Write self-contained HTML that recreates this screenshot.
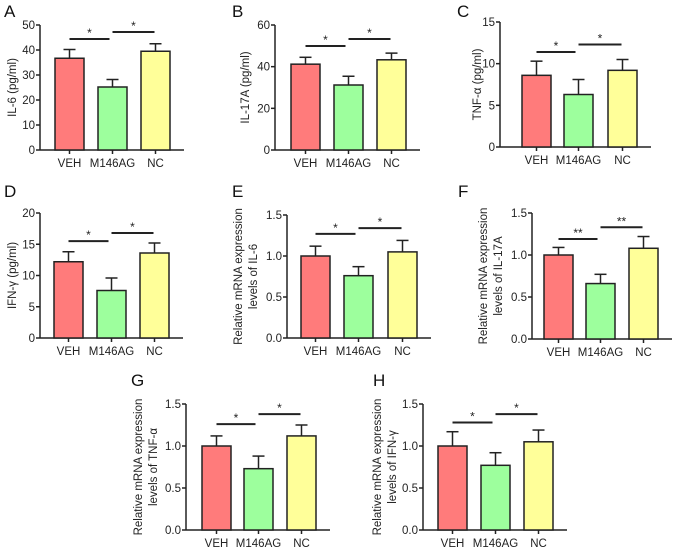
<!DOCTYPE html>
<html><head><meta charset="utf-8"><style>
body{margin:0;background:#fff}
svg{display:block;font-family:"Liberation Sans",sans-serif}
</style></head><body>
<svg id="fig" width="677" height="550" viewBox="0 0 677 550"></svg>
<script>
const categories=["VEH","M146AG","NC"];
const valsA=[36.7,25.2,39.5], errA=[3.5,3.0,3.0], sigA=[44.4,47.2], ticksA=[0,10,20,30,40,50];
const valsB=[41.2,31.2,43.3], errB=[3.3,4.2,3.2], sigB=[49.9,53.3], ticksB=[0,20,40,60];
const valsC=[8.6,6.3,9.2], errC=[1.7,1.8,1.3], sigC=[11.4,12.3], ticksC=[0,5,10,15];
const valsD=[12.2,7.6,13.6], errD=[1.6,2.0,1.6], sigD=[15.5,16.8], ticksD=[0,5,10,15,20];
const valsE=[1.0,0.76,1.05], errE=[0.12,0.11,0.14], sigE=[1.27,1.34], ticksE=[0,0.5,1.0,1.5];
const valsF=[1.0,0.66,1.08], errF=[0.09,0.11,0.14], sigF=[1.19,1.33], ticksF=[0,0.5,1.0,1.5];
const valsG=[1.0,0.73,1.12], errG=[0.12,0.15,0.13], sigG=[1.26,1.38], ticksG=[0,0.5,1.0,1.5];
const valsH=[1.0,0.77,1.05], errH=[0.17,0.15,0.14], sigH=[1.28,1.38], ticksH=[0,0.5,1.0,1.5];
const sigLabels=[["*","*"],["*","*"],["*","*"],["*","*"],["*","*"],["**","**"],["*","*"],["*","*"]];
const colors=["#ff7b7b","#9dff9d","#ffff99"];
const NS="http://www.w3.org/2000/svg";
const svg=document.getElementById('fig');
function mk(t,a,p){const e=document.createElementNS(NS,t);for(const k in a)e.setAttribute(k,a[k]);(p||svg).appendChild(e);return e;}
const panels=[
 {id:"a",L:"A",lx:4,ly:17,ax:40,top:25,bot:150,bx:[55,98,141],bw:29,vals:valsA,err:errA,sig:sigA,ticks:ticksA,dec:0,yl:["IL-6 (pg/ml)"],ylx:[12]},
 {id:"b",L:"B",lx:232,ly:17,ax:275,top:25,bot:150,bx:[291,334,377],bw:29,vals:valsB,err:errB,sig:sigB,ticks:ticksB,dec:0,yl:["IL-17A (pg/ml)"],ylx:[245]},
 {id:"c",L:"C",lx:457,ly:17,ax:500,top:22,bot:147,bx:[522,564,608],bw:29,vals:valsC,err:errC,sig:sigC,ticks:ticksC,dec:0,yl:["TNF-α (pg/ml)"],ylx:[477]},
 {id:"d",L:"D",lx:4,ly:197,ax:40,top:213,bot:338,bx:[54,97,140],bw:29,vals:valsD,err:errD,sig:sigD,ticks:ticksD,dec:0,yl:["IFN-γ (pg/ml)"],ylx:[12]},
 {id:"e",L:"E",lx:232,ly:197,ax:287,top:215,bot:338,bx:[301,344,388],bw:29,vals:valsE,err:errE,sig:sigE,ticks:ticksE,dec:1,yl:["Relative mRNA expression","levels of IL-6"],ylx:[238,253]},
 {id:"f",L:"F",lx:458,ly:197,ax:532,top:213,bot:339,bx:[544,586,629],bw:29,vals:valsF,err:errF,sig:sigF,ticks:ticksF,dec:1,yl:["Relative mRNA expression","levels of IL-17A"],ylx:[483,498]},
 {id:"g",L:"G",lx:131,ly:386,ax:186,top:404,bot:530,bx:[202,244,287],bw:29,vals:valsG,err:errG,sig:sigG,ticks:ticksG,dec:1,yl:["Relative mRNA expression","levels of TNF-α"],ylx:[138,153]},
 {id:"h",L:"H",lx:373,ly:386,ax:423,top:404,bot:530,bx:[438,481,524],bw:29,vals:valsH,err:errH,sig:sigH,ticks:ticksH,dec:1,yl:["Relative mRNA expression","levels of IFN-γ"],ylx:[377,392]}
];
panels.forEach((p,pi)=>{
 const g=mk('g',{});
 
 
 const max=p.ticks[p.ticks.length-1];
 const y=v=>p.bot-(v/max)*(p.bot-p.top);
 const lab=mk('text',{x:p.lx,y:p.ly,'font-size':17,fill:'#111'},g);lab.textContent=p.L;
 
 
 const cy=(p.top+p.bot)/2;
 p.yl.forEach((t,i)=>{const e=mk('text',{x:p.ylx[i],y:cy+4,'font-size':11.5,fill:'#222','text-anchor':'middle',transform:`rotate(-90 ${p.ylx[i]} ${cy})`},g);e.textContent=t;
  
  });
 const xEnd=p.bx[2]+p.bw+14;
 mk('line',{x1:p.ax,y1:p.top,x2:p.ax,y2:p.bot,stroke:'#222','stroke-width':1.5},g);
 mk('line',{x1:p.ax,y1:p.bot,x2:xEnd,y2:p.bot,stroke:'#222','stroke-width':1.5},g);
 p.ticks.forEach(t=>{const yy=y(t);mk('line',{x1:p.ax-4,y1:yy,x2:p.ax,y2:yy,stroke:'#222','stroke-width':1.5},g);
  const e=mk('text',{x:p.ax-5,y:yy+4,'font-size':11.5,fill:'#222','text-anchor':'end'},g);e.textContent=t.toFixed(p.dec);
  
  });
 const cx=[];
 categories.forEach((c,i)=>{
  const x=p.bx[i],w=p.bw,c0=x+w/2;cx.push(c0);
  const top=y(p.vals[i]+p.err[i]);
  mk('line',{x1:c0,y1:y(p.vals[i]),x2:c0,y2:top,stroke:'#222','stroke-width':1.5},g);
  mk('line',{x1:c0-6,y1:top,x2:c0+6,y2:top,stroke:'#222','stroke-width':1.5},g);
  const r=mk('rect',{x:x,y:y(p.vals[i]),width:w,height:p.bot-y(p.vals[i]),fill:colors[i],stroke:'#222','stroke-width':1.5},g);
  
  
  mk('line',{x1:c0,y1:p.bot,x2:c0,y2:p.bot+4,stroke:'#222','stroke-width':1.5},g);
  const t=mk('text',{x:c0,y:p.bot+17,'font-size':11.5,fill:'#222','text-anchor':'middle'},g);t.textContent=c;
  
  
 });
 [[cx[0],cx[1]-3],[cx[1],cx[2]-1]].forEach((s,k)=>{
  const yy=y(p.sig[k]);
  const l=mk('line',{x1:s[0],y1:yy,x2:s[1],y2:yy,stroke:'#222','stroke-width':2},g);
  
  
  const t=mk('text',{x:(s[0]+s[1])/2,y:yy-2,'font-size':12,fill:'#222','text-anchor':'middle'},g);t.textContent=sigLabels[pi][k];
  
  
 });
});
</script>
</body></html>
